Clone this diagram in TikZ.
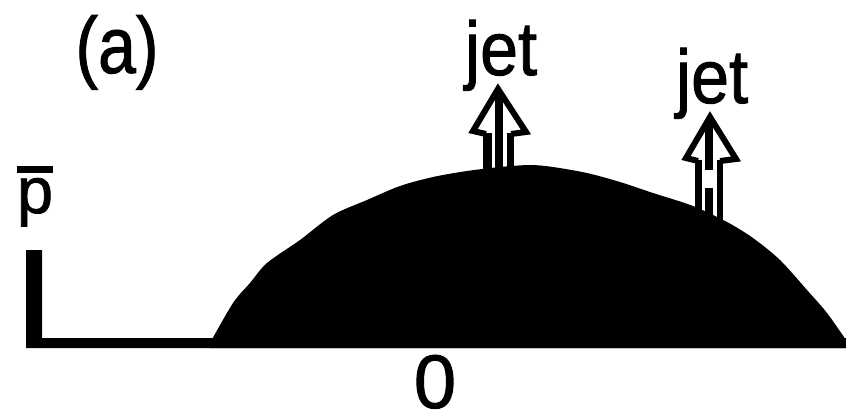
\documentclass[tikz,border=0pt]{standalone}
\usepackage{fontspec}
\setmainfont{Liberation Sans}[FakeBold=1.2]
\begin{document}
\begin{tikzpicture}[x=1pt,y=-1pt,
  lbl/.style={inner sep=0pt,anchor=base,font=\fontsize{80}{90}\selectfont},
  ink/.style={fill=black,draw=none},
  headline/.style={line width=6pt,line join=miter,miter limit=10}]
\useasboundingbox (0,0) rectangle (846,418);
% axes (L shape)
\fill[ink] (26,250) -- (42,250) -- (42,338) -- (846,338) -- (846,348) -- (26,348) -- cycle;
% dome
\fill[ink] plot[smooth,tension=0.5] coordinates {(210,343) (233,303) (250,283) (267,263) (300,240) (333,215) (367,200) (400,186) (433,177) (467,171) (500,167) (530,165) (553,167) (587,173) (620,182) (653,193) (693,206) (727,222) (753,238) (780,260) (807,290) (827,313) (846,340)} -- (846,348) -- (210,348) -- cycle;
% jet arrow 1
\fill[ink] (483,133) rectangle (492,172);
\fill[ink] (494.5,95) rectangle (503,172);
\fill[ink] (507,133) rectangle (514,172);
\draw[headline] (486,134) -- (473,131) -- (498,89) -- (526,132) -- (511,134);
% jet arrow 2
\fill[ink] (695,160) rectangle (702,222);
\fill[ink] (705,123) rectangle (713,170);
\fill[ink] (705,188) rectangle (713,222);
\fill[ink] (717,160) rectangle (723,222);
\draw[headline] (698,161) -- (686,158) -- (710,117) -- (736,159) -- (720,161);
% labels
\node[lbl,xscale=0.85] (a) at (117,73) {(a)};
\node[lbl,font=\fontsize{76}{90}\selectfont,xscale=0.9] (jet1) at (501,75) {jet};
\node[lbl,font=\fontsize{76}{90}\selectfont,xscale=0.9] (jet2) at (712,103) {jet};
\node[lbl,font=\fontsize{76}{90}\selectfont] (zero) at (435,408) {0};
\node[lbl,font=\fontsize{65}{75}\selectfont] (pbar) at (35,213) {\vbox{\hrule height 7pt\kern5pt\hbox{p}}};
\end{tikzpicture}
\end{document}
